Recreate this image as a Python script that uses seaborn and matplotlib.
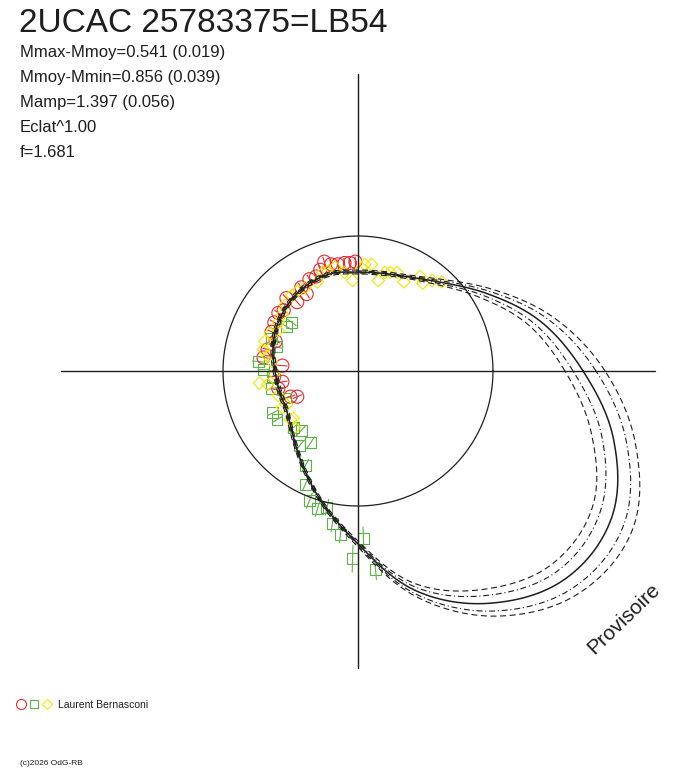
import numpy as np
import pandas as pd
import matplotlib
matplotlib.use("Agg")
import matplotlib.pyplot as plt
import seaborn as sns
from matplotlib.legend_handler import HandlerTuple
from matplotlib.lines import Line2D

# ---------------- data ----------------
title = "2UCAC 25783375=LB54"
stats_lines = ["Mmax-Mmoy=0.541 (0.019)", "Mmoy-Mmin=0.856 (0.039)",
               "Mamp=1.397 (0.056)", "Eclat^1.00", "f=1.681"]
observer = "Laurent Bernasconi"
credit = "(c)2026 OdG-RB"
watermark = "Provisoire"

# fitted light curve in polar form: angle (deg) -> relative brightness
fit_angle_deg = list(range(0, 360, 15))
fit_r = [1.667, 1.405, 1.130, 0.920, 0.800, 0.748, 0.733, 0.748, 0.741, 0.719,
         0.689, 0.652, 0.615, 0.600, 0.607, 0.681, 0.815, 1.015, 1.281, 1.689,
         1.985, 2.175, 2.170, 1.960]
fit_lo2 = [1.533, 1.310, 1.070, 0.890, 0.785, 0.733, 0.719, 0.733, 0.726, 0.704,
           0.674, 0.637, 0.600, 0.585, 0.593, 0.667, 0.800, 1.000, 1.259, 1.630,
           1.867, 2.027, 2.007, 1.790]
fit_lo1 = [1.593, 1.353, 1.100, 0.905, 0.793, 0.741, 0.726, 0.741, 0.733, 0.711,
           0.681, 0.644, 0.607, 0.593, 0.600, 0.674, 0.807, 1.007, 1.270, 1.659,
           1.919, 2.093, 2.074, 1.870]
fit_hi1 = [1.763, 1.464, 1.160, 0.935, 0.807, 0.756, 0.741, 0.756, 0.748, 0.726,
           0.696, 0.659, 0.622, 0.607, 0.615, 0.689, 0.822, 1.022, 1.293, 1.719,
           2.052, 2.264, 2.274, 2.060]
fit_hi2 = [1.830, 1.509, 1.189, 0.950, 0.815, 0.763, 0.748, 0.763, 0.756, 0.733,
           0.704, 0.667, 0.630, 0.615, 0.622, 0.696, 0.830, 1.030, 1.304, 1.741,
           2.096, 2.323, 2.348, 2.130]

mean_radius = 1.0
axis_half = 2.2

# observations (cartesian, relative brightness units)
red_x = [-0.02, -0.06, -0.10, -0.15, -0.20, -0.25, -0.28, -0.31, -0.36, -0.42,
         -0.38, -0.45, -0.53, -0.55, -0.59, -0.62, -0.64, -0.61, -0.67, -0.70,
         -0.56, -0.62, -0.56, -0.59, -0.50, -0.45]
red_y = [0.81, 0.80, 0.80, 0.79, 0.79, 0.81, 0.75, 0.70, 0.68, 0.62,
         0.57, 0.51, 0.54, 0.45, 0.43, 0.36, 0.29, 0.22, 0.16, 0.10,
         0.04, -0.04, -0.08, -0.13, -0.19, -0.19]
red_err = [0.035] * 26

green_x = [-0.49, -0.53, -0.64, -0.60, -0.74, -0.70, -0.63, -0.64, -0.54, -0.63,
           -0.60, -0.48, -0.42, -0.43, -0.35, -0.39, -0.39, -0.36, -0.30, -0.23,
           -0.19, -0.13, 0.04, -0.04, 0.13]
green_y = [0.36, 0.33, 0.24, 0.18, 0.07, 0.01, -0.04, -0.13, -0.20, -0.31,
           -0.36, -0.42, -0.44, -0.55, -0.53, -0.70, -0.84, -0.96, -1.02, -1.01,
           -1.13, -1.21, -1.24, -1.39, -1.47]
green_err = [0.04, 0.04, 0.04, 0.04, 0.04, 0.04, 0.04, 0.04, 0.04, 0.04,
             0.04, 0.05, 0.05, 0.05, 0.05, 0.05, 0.05, 0.06, 0.06, 0.06,
             0.06, 0.06, 0.085, 0.10, 0.075]

yellow_x = [0.62, 0.55, 0.48, 0.46, 0.34, 0.29, 0.24, 0.20, 0.15, 0.10,
            0.05, 0.03, -0.04, -0.10, -0.17, -0.22, -0.26, -0.30, -0.39, -0.45,
            -0.49, -0.54, -0.56, -0.59, -0.59, -0.65, -0.69, -0.70, -0.67, -0.64,
            -0.62, -0.73, -0.67, -0.59, -0.56, -0.53, -0.48, -0.47, -0.50]
yellow_y = [0.66, 0.67, 0.65, 0.70, 0.66, 0.73, 0.73, 0.73, 0.67, 0.79,
            0.79, 0.76, 0.67, 0.73, 0.77, 0.74, 0.73, 0.66, 0.62, 0.59,
            0.56, 0.49, 0.42, 0.36, 0.30, 0.28, 0.22, 0.16, 0.11, 0.07,
            -0.02, -0.09, -0.10, -0.18, -0.27, -0.25, -0.35, -0.42, -0.36]

# ---------------- styling ----------------
RED = "#e8282d"
GREEN = "#5cb446"
YELLOW = "#f2e600"
INK = "#1e1e1e"
W, H = 688, 768
CX, CY, SCALE = 358, 371, 135.0

sns.set_theme(style="white")
plt.rcParams["font.family"] = ["Liberation Sans", "DejaVu Sans"]
plt.rcParams["lines.scale_dashes"] = False

fig = plt.figure(figsize=(W / 100, H / 100), dpi=100)
ax = fig.add_axes([0, 0, 1, 1])
ax.set_xlim(-CX / SCALE, (W - CX) / SCALE)
ax.set_ylim(-(H - CY) / SCALE, CY / SCALE)
ax.set_axis_off()


def smooth_polar(angles_deg, radii, n=30):
    r = np.asarray(radii, float)
    N = len(r)
    t = np.linspace(0, 1, n, endpoint=False)
    segs = []
    for i in range(N):
        p0, p1, p2, p3 = r[i - 1], r[i], r[(i + 1) % N], r[(i + 2) % N]
        segs.append(0.5 * (2 * p1 + (-p0 + p2) * t
                           + (2 * p0 - 5 * p1 + 4 * p2 - p3) * t ** 2
                           + (-p0 + 3 * p1 - 3 * p2 + p3) * t ** 3))
    rr = np.concatenate(segs + [r[:1]])
    step = angles_deg[1] - angles_deg[0]
    th = np.deg2rad(angles_deg[0] + np.arange(N * n + 1) * step / n)
    return pd.DataFrame({"x": rr * np.cos(th), "y": rr * np.sin(th)})


def open_scatter(xs, ys, marker, s, col):
    sns.scatterplot(x=xs, y=ys, marker=marker, s=s, facecolor="none",
                    edgecolor=col, linewidth=0.8, ax=ax, zorder=2, legend=False)


def radial_errors(xs, ys, errs, col):
    rows = []
    for k, (x, y, e) in enumerate(zip(xs, ys, errs)):
        r = np.hypot(x, y)
        ux, uy = x / r, y / r
        rows.append((k, (r - e) * ux, (r - e) * uy))
        rows.append((k, (r + e) * ux, (r + e) * uy))
    df = pd.DataFrame(rows, columns=["id", "x", "y"])
    sns.lineplot(data=df, x="x", y="y", units="id", estimator=None, sort=False,
                 color=col, linewidth=0.8, ax=ax, zorder=2, legend=False)


radial_errors(green_x, green_y, green_err, GREEN)
radial_errors(red_x, red_y, red_err, RED)
open_scatter(red_x, red_y, "o", 88, RED)
open_scatter(green_x, green_y, "s", 62, GREEN)
open_scatter(yellow_x, yellow_y, "D", 40, YELLOW)

# mean circle
th = np.linspace(0, 2 * np.pi, 400)
sns.lineplot(x=mean_radius * np.cos(th), y=mean_radius * np.sin(th), sort=False,
             estimator=None, color=INK, linewidth=0.9, ax=ax, zorder=3)

# axes cross
sns.lineplot(x=[-axis_half, axis_half], y=[0, 0], sort=False, estimator=None,
             color=INK, linewidth=1.0, ax=ax, zorder=3)
sns.lineplot(x=[0, 0], y=[-axis_half, axis_half], sort=False, estimator=None,
             color=INK, linewidth=1.0, ax=ax, zorder=3)

# fit curves
dash = (0, (4.3, 2.6))
dashdot = (0, (4.3, 2.0, 0.8, 2.0))
for radii, ls, lw in [(fit_lo2, dash, 0.8), (fit_lo1, dashdot, 0.8),
                      (fit_hi1, dashdot, 0.8), (fit_hi2, dash, 0.8),
                      (fit_r, "-", 1.1)]:
    df = smooth_polar(fit_angle_deg, radii)
    sns.lineplot(data=df, x="x", y="y", sort=False, estimator=None, color=INK,
                 linewidth=lw, linestyle=ls, ax=ax, zorder=3)


def ftext(px, py, s, **kw):
    fig.text(px / W, 1 - py / H, s, color=INK, **kw)


ftext(19, 32, title, fontsize=24, va="baseline")
for i, line in enumerate(stats_lines):
    ftext(20, 57 + 25 * i, line, fontsize=12, va="baseline")
ftext(20, 765, credit, fontsize=6, va="baseline")
ftext(624, 619, watermark, fontsize=15, rotation=44, ha="center", va="center",
      rotation_mode="anchor")

# legend
h_red = Line2D([], [], marker="o", ms=7.2, mfc="none", mec=RED, mew=0.8, ls="")
h_green = Line2D([], [], marker="s", ms=5.2, mfc="none", mec=GREEN, mew=0.8, ls="")
h_yel = Line2D([], [], marker="D", ms=5.0, mfc="none", mec=YELLOW, mew=0.8, ls="")
fig.legend(handles=[(h_red, h_green, h_yel)], labels=[observer],
           handler_map={tuple: HandlerTuple(ndivide=None, pad=0.3)},
           loc="center left", bbox_to_anchor=(16 / W, 1 - 705 / H),
           frameon=False, fontsize=7.5, handlelength=3.4, handletextpad=0.6,
           borderpad=0, borderaxespad=0, labelcolor=INK)

fig.savefig("out.png", dpi=100)
